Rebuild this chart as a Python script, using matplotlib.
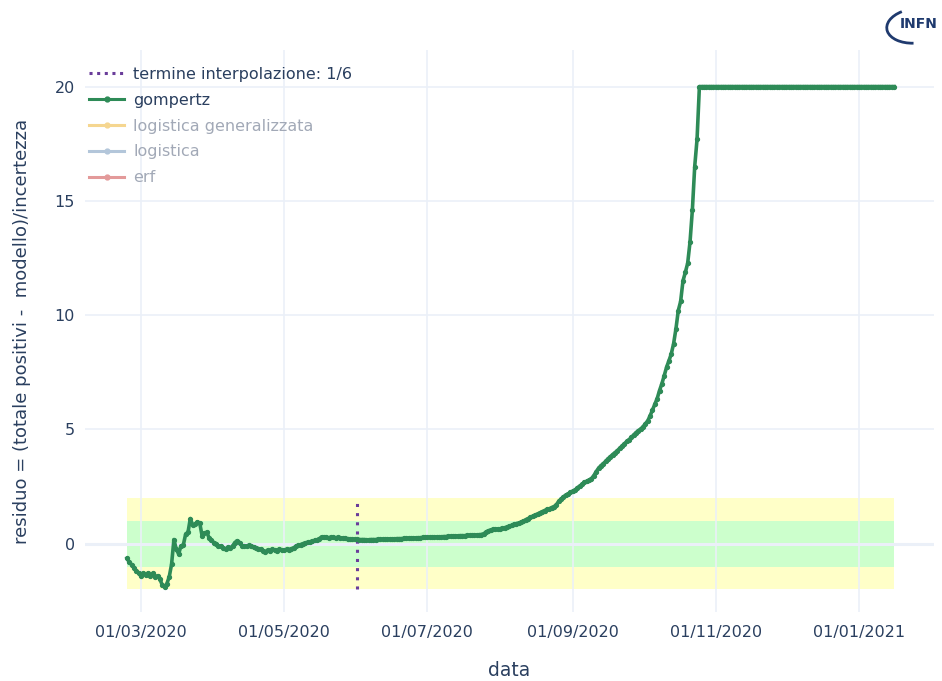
import numpy as np
import pandas as pd
import matplotlib.pyplot as plt
import matplotlib.dates as mdates
from matplotlib.lines import Line2D
from matplotlib.patches import Arc

# dati
data_inizio = "2020-02-24"
data_fine_fasce = "2021-01-16"
termine_interpolazione = "2020-06-01"

residuo_gompertz = [
    -0.64, -0.82, -0.92, -1.05, -1.2, -1.3, -1.42, -1.3, -1.38, -1.28,
    -1.4, -1.3, -1.45, -1.4, -1.55, -1.8, -1.9, -1.75, -1.45, -0.9,
    0.18, -0.25, -0.45, -0.1, -0.06, 0.42, 0.5, 1.1, 0.8, 0.85,
    0.95, 0.9, 0.35, 0.45, 0.5, 0.25, 0.15, 0.05, 0.0, -0.1,
    -0.12, -0.2, -0.25, -0.15, -0.2, -0.1, 0.05, 0.13, 0.05, -0.1,
    -0.1, -0.12, -0.08, -0.1, -0.15, -0.2, -0.22, -0.25, -0.3, -0.35,
    -0.28, -0.3, -0.25, -0.28, -0.3, -0.25, -0.27, -0.28, -0.25, -0.26,
    -0.23, -0.18, -0.12, -0.08, -0.04, 0.0, 0.03, 0.06, 0.08, 0.11,
    0.14, 0.17, 0.22, 0.3, 0.28, 0.27, 0.26, 0.28, 0.27, 0.26,
    0.27, 0.25, 0.24, 0.23, 0.22, 0.21, 0.2, 0.19,
    0.19, 0.18, 0.18, 0.18, 0.17, 0.17, 0.18, 0.18, 0.18, 0.19,
    0.19, 0.19, 0.2, 0.2, 0.21, 0.21, 0.21, 0.22, 0.22, 0.22,
    0.23, 0.23, 0.24, 0.24, 0.25, 0.25, 0.26, 0.26, 0.27, 0.27,
    0.28, 0.28, 0.29, 0.29, 0.3, 0.3, 0.3, 0.31, 0.31, 0.32,
    0.32, 0.33, 0.33, 0.34, 0.35, 0.35, 0.35, 0.36, 0.36, 0.37,
    0.37, 0.38, 0.39, 0.4, 0.43,
    0.5, 0.56, 0.6, 0.62, 0.63, 0.64, 0.65, 0.67, 0.7, 0.72,
    0.76, 0.8, 0.84, 0.88, 0.9, 0.93, 0.98, 1.05, 1.1, 1.15,
    1.2, 1.25, 1.3, 1.35, 1.4, 1.45, 1.5, 1.52, 1.58, 1.62,
    1.7, 1.85, 1.95, 2.05, 2.12, 2.18, 2.24, 2.3, 2.35, 2.45,
    2.52, 2.6, 2.68, 2.73, 2.78, 2.85, 2.98, 3.15, 3.3, 3.41,
    3.5, 3.6, 3.71, 3.8, 3.9, 3.98, 4.07, 4.17, 4.27, 4.37,
    4.47, 4.55, 4.65, 4.76, 4.86, 4.95, 5.02, 5.12, 5.25, 5.38,
    5.6, 5.85, 6.1, 6.35, 6.7, 7.0, 7.35, 7.72, 8.0, 8.3,
    8.75, 9.4, 10.2, 10.6, 11.5, 11.87, 12.27, 13.2, 14.6, 16.5,
    17.7,
]
# dopo il 26/10 il residuo resta a 20 (valore di saturazione)
residuo_saturato = [20.0] * 84

fascia_1sigma = [-1, 1]
fascia_2sigma = [-2, 2]

voci_legenda = ["termine interpolazione: 1/6", "gompertz",
                "logistica generalizzata", "logistica", "erf"]

residuo = residuo_gompertz + residuo_saturato
date = pd.date_range(data_inizio, periods=len(residuo), freq="D")
fasce_x = [pd.Timestamp(data_inizio), pd.Timestamp(data_fine_fasce)]
t_int = pd.Timestamp(termine_interpolazione)

testo = "#2a3f5f"
griglia = "#ebf0f8"

plt.rcParams["font.family"] = ["DejaVu Sans"]

fig = plt.figure(figsize=(9.42, 6.81), dpi=100)
ax = fig.add_axes([0.090, 0.101, 0.9015, 0.8256])

ax.fill_between(fasce_x, fascia_2sigma[0], fascia_2sigma[1], color="#ffffc8",
                linewidth=0, zorder=0.1)
ax.fill_between(fasce_x, fascia_1sigma[0], fascia_1sigma[1], color="#ccffcc",
                linewidth=0, zorder=0.2)

ax.plot([t_int, t_int], fascia_2sigma, color="#6a3d9a", linestyle=(0, (1, 2)),
        linewidth=2.2, zorder=3)
ax.plot(date, residuo, color="#2e8b57", linewidth=2.6, marker="o",
        markersize=2.8, zorder=4)

ax.set_xlim(pd.Timestamp("2020-02-06"), pd.Timestamp("2021-02-02"))
ax.set_ylim(-3.0, 21.6)
ax.set_yticks([0, 5, 10, 15, 20])

ax.xaxis.set_major_locator(mdates.MonthLocator(bymonth=[1, 3, 5, 7, 9, 11]))
ax.xaxis.set_major_formatter(mdates.DateFormatter("%d/%m/%Y"))

ax.set_axisbelow(True)
ax.grid(True, color=griglia, linewidth=1.2)
ax.axhline(0, color=griglia, linewidth=2.2, zorder=0.6)
for s in ax.spines.values():
    s.set_visible(False)
ax.tick_params(length=0, labelsize=11.5, labelcolor=testo)
ax.tick_params(axis="x", pad=9)
ax.tick_params(axis="y", pad=7)

ax.set_xlabel("data", fontsize=13.5, color=testo, labelpad=15)
ax.set_ylabel("residuo = (totale positivi -  modello)/incertezza", fontsize=13,
              color=testo, labelpad=17)

# legenda: le tre curve nascoste sono sbiadite
handles = [
    Line2D([], [], color="#6a3d9a", linestyle=(0, (1, 1.5)), linewidth=2.2),
    Line2D([], [], color="#2e8b57", linewidth=2.2, marker="o", markersize=3.5),
    Line2D([], [], color="#f5d690", linewidth=2.2, marker="o", markersize=3.5),
    Line2D([], [], color="#b3c6da", linewidth=2.2, marker="o", markersize=3.5),
    Line2D([], [], color="#e39a9a", linewidth=2.2, marker="o", markersize=3.5),
]
leg = ax.legend(handles, voci_legenda, loc="upper left", bbox_to_anchor=(-0.008, 0.99),
                frameon=False, fontsize=11.5, handlelength=2.2, handletextpad=0.55,
                labelspacing=0.68, borderaxespad=0.3)
for i, t in enumerate(leg.get_texts()):
    t.set_color(testo if i < 2 else "#a2a9b7")

# logo INFN
fig.text(0.975, 0.965, "INFN", ha="center", va="center", fontsize=10,
         fontweight="bold", color="#1f3a6e")
fig.add_artist(Arc((0.972, 0.962), 0.062, 0.05, angle=15, theta1=110, theta2=250,
                   transform=fig.transFigure, color="#1f3a6e", linewidth=2))

fig.savefig("out.png", dpi=100)
